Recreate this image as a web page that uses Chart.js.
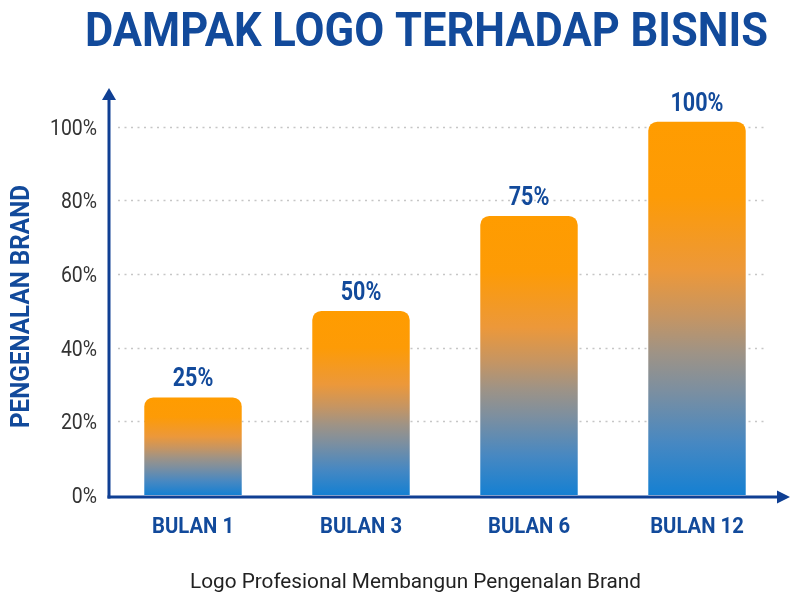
<!DOCTYPE html>
<html>
<head>
<meta charset="utf-8">
<script src="https://cdn.jsdelivr.net/npm/chart.js@4.4.1/dist/chart.umd.min.js"></script>
<style>
html,body{margin:0;padding:0;background:#fff;}
canvas{display:block;}
</style>
</head>
<body>
<canvas id="c" width="800" height="603"></canvas>
<script>
const categories = ['BULAN 1', 'BULAN 3', 'BULAN 6', 'BULAN 12'];
const values = [26.5, 50, 75.8, 101.4];
const valueLabels = ['25%', '50%', '75%', '100%'];
const yTicks = [0, 20, 40, 60, 80, 100];
const titleText = 'DAMPAK LOGO TERHADAP BISNIS';
const yTitleText = 'PENGENALAN BRAND';
const footerText = 'Logo Profesional Membangun Pengenalan Brand';

const BLUE = '#124a9b';
const AXIS = '#0f3f93';
const FAM = "Roboto, 'Noto Sans', sans-serif";

function barGradient(c) {
  const chart = c.chart;
  if (!chart.chartArea) return '#FF9C00';
  const y = chart.scales.y;
  const top = y.getPixelForValue(values[c.dataIndex]);
  const bot = y.getPixelForValue(0);
  const g = chart.ctx.createLinearGradient(0, top, 0, bot);
  g.addColorStop(0, '#FF9C00');
  g.addColorStop(0.2, '#FD9B06');
  g.addColorStop(0.4, '#EC983A');
  g.addColorStop(0.52, '#C69562');
  g.addColorStop(0.62, '#9E9386');
  g.addColorStop(0.72, '#7C8FA0');
  g.addColorStop(0.86, '#4788C2');
  g.addColorStop(1, '#1580D2');
  return g;
}

function fitScale(ctx, sample, font, target) {
  ctx.font = font;
  return target / ctx.measureText(sample).width;
}
function drawText(ctx, text, x, y, font, sx, align, color, rot) {
  ctx.save();
  ctx.font = font;
  ctx.fillStyle = color;
  ctx.textAlign = align;
  ctx.textBaseline = 'alphabetic';
  ctx.translate(x, y);
  if (rot) ctx.rotate(rot);
  ctx.scale(sx, 1);
  ctx.fillText(text, 0, 0);
  ctx.restore();
}

const gridPlugin = {
  id: 'dottedGrid',
  beforeDatasetsDraw(chart) {
    const ctx = chart.ctx, ca = chart.chartArea, y = chart.scales.y;
    ctx.save();
    ctx.strokeStyle = '#c6c6c6';
    ctx.lineWidth = 1.5;
    ctx.setLineDash([2, 4.5]);
    yTicks.forEach(v => {
      if (v === 0) return;
      const py = Math.round(y.getPixelForValue(v)) + 0.5;
      ctx.beginPath();
      ctx.moveTo(ca.left + 9, py);
      ctx.lineTo(ca.right - 14, py);
      ctx.stroke();
    });
    ctx.restore();
  }
};

const decorPlugin = {
  id: 'decor',
  afterDatasetsDraw(chart) {
    const ctx = chart.ctx;
    const ca = chart.chartArea;
    const xs = chart.scales.x, ys = chart.scales.y;
    ctx.save();
    ctx.strokeStyle = AXIS;
    ctx.fillStyle = AXIS;
    ctx.lineWidth = 3;
    const x0 = ca.left, y0 = ca.bottom + 2;
    ctx.beginPath();
    ctx.moveTo(x0, y0 + 1.5);
    ctx.lineTo(x0, ca.top + 8);
    ctx.stroke();
    ctx.beginPath();
    ctx.moveTo(x0, ca.top - 2);
    ctx.lineTo(x0 - 7, ca.top + 10);
    ctx.lineTo(x0 + 7, ca.top + 10);
    ctx.closePath();
    ctx.fill();
    ctx.beginPath();
    ctx.moveTo(x0 - 1.5, y0);
    ctx.lineTo(780, y0);
    ctx.stroke();
    ctx.beginPath();
    ctx.moveTo(790, y0);
    ctx.lineTo(777, y0 - 6.5);
    ctx.lineTo(777, y0 + 6.5);
    ctx.closePath();
    ctx.fill();
    ctx.restore();

    // title
    const tFont = "bold 48px " + FAM;
    drawText(ctx, titleText, 426.5, 46, tFont, fitScale(ctx, titleText, tFont, 683), 'center', BLUE);

    // value labels
    const vFont = "bold 25px " + FAM;
    const vsx = fitScale(ctx, '100%', vFont, 53);
    chart.getDatasetMeta(0).data.forEach((bar, i) => {
      drawText(ctx, valueLabels[i], bar.x, bar.y - 11, vFont, vsx, 'center', BLUE);
    });

    // x tick labels
    const xFont = "bold 22.5px " + FAM;
    const xsx = fitScale(ctx, 'BULAN 1', xFont, 82);
    categories.forEach((c, i) => {
      drawText(ctx, c, xs.getPixelForTick(i), 533, xFont, xsx, 'center', BLUE);
    });

    // y tick labels
    const yFont = "22px " + FAM;
    const ysx = fitScale(ctx, '100%', yFont, 47);
    yTicks.forEach(v => {
      drawText(ctx, v + '%', 97, ys.getPixelForValue(v) + 8, yFont, ysx, 'right', '#333333');
    });

    // y title
    const ytFont = "bold 25px " + FAM;
    drawText(ctx, yTitleText, 29, 306.5, ytFont, fitScale(ctx, yTitleText, ytFont, 243), 'center', BLUE, -Math.PI / 2);

    // footer
    const fFont = "21px " + FAM;
    drawText(ctx, footerText, 415.5, 588, fFont, fitScale(ctx, footerText, fFont, 451), 'center', '#222222');
  }
};

new Chart(document.getElementById('c'), {
  type: 'bar',
  data: {
    labels: categories,
    datasets: [{
      data: values,
      backgroundColor: barGradient,
      borderWidth: 0,
      borderRadius: {topLeft: 9, topRight: 9, bottomLeft: 0, bottomRight: 0},
      borderSkipped: 'bottom',
      barPercentage: 0.58,
      categoryPercentage: 1
    }]
  },
  options: {
    responsive: false,
    animation: false,
    devicePixelRatio: 1,
    layout: {padding: {left: 0, right: 19, top: 90, bottom: 0}},
    plugins: {
      legend: {display: false},
      tooltip: {enabled: false},
      title: {display: false}
    },
    scales: {
      x: {
        grid: {display: false, drawTicks: false},
        border: {display: false},
        ticks: {display: false},
        afterFit(s) { s.height = 108; }
      },
      y: {
        min: 0,
        max: 110,
        afterBuildTicks(s) { s.ticks = yTicks.map(v => ({value: v})); },
        grid: {display: false, drawTicks: false},
        border: {display: false},
        ticks: {display: false},
        afterFit(s) { s.width = 109; }
      }
    }
  },
  plugins: [gridPlugin, decorPlugin]
});
</script>
</body>
</html>
